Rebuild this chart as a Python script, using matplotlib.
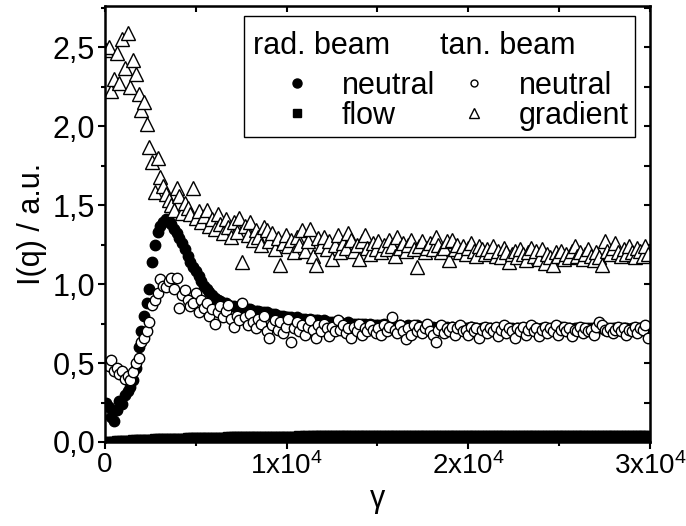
import numpy as np
import matplotlib
matplotlib.use("Agg")
import matplotlib.pyplot as plt
from matplotlib.lines import Line2D
from matplotlib.ticker import FixedLocator, FixedFormatter, MultipleLocator

plt.rcParams['font.family'] = ['Liberation Sans', 'DejaVu Sans']
plt.rcParams['mathtext.fontset'] = 'custom'
plt.rcParams['mathtext.rm'] = 'Liberation Sans'
plt.rcParams['mathtext.it'] = 'Liberation Sans:italic'

# strain values (sampling grid of the measurement)
gamma = np.arange(50, 30000, 150)

# radial beam, neutral direction (filled circles)
rad_neutral = [
    0.25, 0.22, 0.16, 0.13, 0.20, 0.26, 0.24, 0.30, 0.32, 0.35,
    0.39, 0.47, 0.60, 0.70, 0.80, 0.88, 0.97, 1.14, 1.25, 1.33,
    1.37, 1.39, 1.41, 1.40, 1.38, 1.35, 1.32, 1.29, 1.26, 1.22,
    1.18, 1.14, 1.11, 1.08, 1.05, 1.02, 0.99, 0.97, 0.95, 0.93,
    0.91, 0.90, 0.89, 0.88, 0.88, 0.87, 0.86, 0.86, 0.85, 0.85,
    0.85, 0.84, 0.84, 0.84, 0.83, 0.83, 0.83, 0.82, 0.82, 0.82,
    0.81, 0.81, 0.81, 0.80, 0.80, 0.80, 0.79, 0.79, 0.79, 0.78,
    0.79, 0.78, 0.78, 0.78, 0.77, 0.78, 0.77, 0.77, 0.77, 0.76,
    0.77, 0.76, 0.76, 0.76, 0.76, 0.75, 0.76, 0.75, 0.75, 0.76,
    0.75, 0.75, 0.75, 0.74, 0.75, 0.75, 0.74, 0.75, 0.74, 0.74,
    0.74, 0.74, 0.75, 0.74, 0.73, 0.74, 0.74, 0.73, 0.74, 0.73,
    0.73, 0.74, 0.73, 0.73, 0.74, 0.73, 0.73, 0.72, 0.73, 0.73,
    0.73, 0.72, 0.73, 0.73, 0.72, 0.73, 0.72, 0.73, 0.72, 0.72,
    0.73, 0.72, 0.72, 0.72, 0.73, 0.72, 0.72, 0.71, 0.72, 0.72,
    0.72, 0.72, 0.71, 0.72, 0.72, 0.72, 0.71, 0.72, 0.72, 0.72,
    0.71, 0.72, 0.72, 0.72, 0.72, 0.71, 0.72, 0.72, 0.72, 0.71,
    0.72, 0.72, 0.72, 0.71, 0.72, 0.72, 0.72, 0.73, 0.72, 0.72,
    0.72, 0.71, 0.72, 0.72, 0.72, 0.72, 0.71, 0.72, 0.72, 0.72,
    0.72, 0.72, 0.73, 0.72, 0.72, 0.71, 0.72, 0.72, 0.72, 0.72,
    0.72, 0.72, 0.71, 0.72, 0.72, 0.72, 0.72, 0.71, 0.72, 0.72,
]

# radial beam, flow direction (filled squares)
rad_flow = [
    0.000, 0.001, 0.002, 0.003, 0.004, 0.005, 0.006, 0.007, 0.008, 0.009,
    0.010, 0.011, 0.012, 0.012, 0.013, 0.014, 0.015, 0.015, 0.016, 0.017,
    0.017, 0.018, 0.019, 0.019, 0.020, 0.020, 0.021, 0.021, 0.022, 0.022,
    0.023, 0.023, 0.024, 0.024, 0.025, 0.025, 0.025, 0.026, 0.026, 0.027,
    0.027, 0.027, 0.028, 0.028, 0.028, 0.029, 0.029, 0.029, 0.030, 0.030,
    0.030, 0.030, 0.031, 0.031, 0.031, 0.031, 0.032, 0.032, 0.032, 0.032,
    0.033, 0.033, 0.033, 0.033, 0.033, 0.034, 0.034, 0.034, 0.034, 0.034,
    0.034, 0.035, 0.034, 0.035, 0.035, 0.034, 0.035, 0.035, 0.035, 0.035,
    0.035, 0.035, 0.036, 0.035, 0.035, 0.036, 0.035, 0.036, 0.036, 0.035,
    0.036, 0.036, 0.035, 0.036, 0.036, 0.036, 0.035, 0.036, 0.036, 0.036,
    0.036, 0.036, 0.037, 0.036, 0.036, 0.036, 0.037, 0.036, 0.036, 0.037,
    0.036, 0.037, 0.036, 0.036, 0.037, 0.036, 0.037, 0.036, 0.037, 0.036,
    0.037, 0.036, 0.037, 0.037, 0.036, 0.037, 0.036, 0.037, 0.037, 0.036,
    0.037, 0.037, 0.036, 0.037, 0.037, 0.036, 0.037, 0.037, 0.037, 0.036,
    0.037, 0.037, 0.037, 0.036, 0.037, 0.037, 0.037, 0.036, 0.037, 0.037,
    0.037, 0.036, 0.037, 0.037, 0.037, 0.037, 0.036, 0.037, 0.037, 0.037,
    0.037, 0.037, 0.036, 0.037, 0.037, 0.037, 0.037, 0.036, 0.037, 0.037,
    0.037, 0.037, 0.037, 0.036, 0.037, 0.037, 0.037, 0.037, 0.037, 0.036,
    0.037, 0.037, 0.037, 0.037, 0.036, 0.037, 0.037, 0.037, 0.037, 0.037,
    0.036, 0.037, 0.037, 0.037, 0.037, 0.037, 0.036, 0.037, 0.037, 0.037,
]

# tangential beam, neutral direction (open circles)
tan_neutral = [
    0.50, 0.48, 0.52, 0.45, 0.47, 0.43, 0.45, 0.40, 0.42, 0.39,
    0.44, 0.50, 0.53, 0.63, 0.66, 0.70, 0.76, 0.87, 0.90, 0.94,
    1.03, 0.99, 0.98, 1.02, 1.04, 0.97, 1.04, 0.85, 0.93, 0.96,
    0.90, 0.86, 0.88, 0.94, 0.82, 0.90, 0.85, 0.88, 0.80, 0.84,
    0.75, 0.82, 0.86, 0.79, 0.83, 0.87, 0.78, 0.73, 0.80, 0.77,
    0.88, 0.79, 0.74, 0.81, 0.76, 0.72, 0.78, 0.75, 0.80, 0.70,
    0.66, 0.74, 0.77, 0.71, 0.76, 0.69, 0.73, 0.78, 0.63, 0.72,
    0.76, 0.70, 0.74, 0.68, 0.73, 0.77, 0.71, 0.66, 0.74, 0.70,
    0.75, 0.72, 0.67, 0.73, 0.70, 0.77, 0.71, 0.74, 0.69, 0.72,
    0.66, 0.73, 0.70, 0.75, 0.68, 0.72, 0.70, 0.74, 0.71, 0.69,
    0.72, 0.68, 0.74, 0.70, 0.73, 0.79, 0.71, 0.69, 0.74, 0.70,
    0.65, 0.72, 0.68, 0.74, 0.70, 0.73, 0.69, 0.72, 0.75, 0.70,
    0.68, 0.63, 0.71, 0.74, 0.69, 0.72, 0.70, 0.73, 0.68, 0.72,
    0.74, 0.70, 0.71, 0.68, 0.73, 0.70, 0.72, 0.66, 0.71, 0.73,
    0.69, 0.72, 0.70, 0.73, 0.67, 0.71, 0.74, 0.69, 0.72, 0.70,
    0.66, 0.72, 0.70, 0.73, 0.68, 0.71, 0.74, 0.70, 0.72, 0.67,
    0.71, 0.73, 0.69, 0.72, 0.70, 0.74, 0.68, 0.71, 0.73, 0.70,
    0.72, 0.67, 0.71, 0.70, 0.73, 0.69, 0.72, 0.70, 0.71, 0.68,
    0.73, 0.76, 0.74, 0.71, 0.70, 0.72, 0.69, 0.71, 0.73, 0.70,
    0.72, 0.68, 0.71, 0.70, 0.73, 0.69, 0.72, 0.71, 0.74, 0.66,
]

# tangential beam, gradient direction (open triangles)
tan_gradient = [
    2.48, 2.50, 2.22, 2.30, 2.46, 2.27, 2.55, 2.37, 2.59, 2.25,
    2.42, 2.33, 2.20, 2.10, 2.15, 2.01, 1.87, 1.77, 1.58, 1.80,
    1.68, 1.62, 1.57, 1.53, 1.50, 1.47, 1.61, 1.56, 1.45, 1.51,
    1.48, 1.44, 1.61, 1.42, 1.46, 1.39, 1.43, 1.47, 1.37, 1.41,
    1.35, 1.44, 1.38, 1.32, 1.41, 1.36, 1.30, 1.39, 1.33, 1.42,
    1.14, 1.37, 1.31, 1.39, 1.28, 1.34, 1.30, 1.25, 1.36, 1.34,
    1.27, 1.32, 1.22, 1.29, 1.12, 1.26, 1.31, 1.24, 1.28, 1.20,
    1.30, 1.25, 1.34, 1.21, 1.27, 1.35, 1.18, 1.12, 1.29, 1.24,
    1.30, 1.22, 1.27, 1.16, 1.25, 1.31, 1.20, 1.26, 1.23, 1.32,
    1.28, 1.21, 1.25, 1.16, 1.27, 1.31, 1.23, 1.19, 1.26, 1.22,
    1.27, 1.20, 1.25, 1.22, 1.28, 1.24, 1.18, 1.30, 1.23, 1.26,
    1.21, 1.25, 1.28, 1.22, 1.11, 1.24, 1.27, 1.20, 1.23, 1.26,
    1.22, 1.30, 1.25, 1.20, 1.23, 1.27, 1.15, 1.28, 1.22, 1.25,
    1.20, 1.24, 1.19, 1.23, 1.26, 1.21, 1.18, 1.24, 1.22, 1.19,
    1.22, 1.20, 1.24, 1.18, 1.21, 1.17, 1.23, 1.20, 1.14, 1.19,
    1.21, 1.17, 1.22, 1.19, 1.15, 1.20, 1.23, 1.18, 1.21, 1.16,
    1.22, 1.13, 1.19, 1.17, 1.12, 1.20, 1.18, 1.21, 1.16, 1.19,
    1.17, 1.21, 1.24, 1.18, 1.20, 1.16, 1.19, 1.22, 1.18, 1.15,
    1.20, 1.17, 1.12, 1.27, 1.21, 1.19, 1.23, 1.26, 1.20, 1.18,
    1.22, 1.19, 1.24, 1.20, 1.17, 1.23, 1.21, 1.18, 1.24, 1.19,
]

x_ticks = [0, 10000, 20000, 30000]
x_tick_labels = ['0', '1x10$^4$', '2x10$^4$', '3x10$^4$']
y_ticks = [0.0, 0.5, 1.0, 1.5, 2.0, 2.5]
y_tick_labels = ['0,0', '0,5', '1,0', '1,5', '2,0', '2,5']

FS = 22

fig = plt.figure(figsize=(6.86, 5.26), dpi=100)
ax = fig.add_axes([0.153, 0.1597, 0.7945, 0.829])

ax.plot(gamma, rad_flow, ls='none', marker='s', ms=7.5, color='black', mec='black')
ax.plot(gamma, rad_neutral, ls='none', marker='o', ms=7.5, color='black', mec='black')
ax.plot(gamma, tan_neutral, ls='none', marker='o', ms=7.5, mfc='white', mec='black', mew=1.0)
ax.plot(gamma, tan_gradient, ls='none', marker='^', ms=9.5, mfc='white', mec='black', mew=1.0)

ax.set_xlim(0, 30000)
ax.set_ylim(0, 2.76)

ax.xaxis.set_major_locator(FixedLocator(x_ticks))
ax.xaxis.set_major_formatter(FixedFormatter(x_tick_labels))
ax.xaxis.set_minor_locator(MultipleLocator(5000))
ax.yaxis.set_major_locator(FixedLocator(y_ticks))
ax.yaxis.set_major_formatter(FixedFormatter(y_tick_labels))
ax.yaxis.set_minor_locator(MultipleLocator(0.25))

ax.tick_params(which='both', direction='out', labelsize=FS, width=1.5, pad=2)
ax.tick_params(axis='x', labelsize=20)
ax.tick_params(which='major', length=5)
ax.tick_params(which='minor', length=3)
for s in ax.spines.values():
    s.set_linewidth(1.8)

top = ax.secondary_xaxis('top')
top.xaxis.set_major_locator(MultipleLocator(5000))
top.tick_params(direction='in', length=4, width=1.5, labeltop=False)
right = ax.secondary_yaxis('right')
right.yaxis.set_major_locator(MultipleLocator(0.25))
right.tick_params(direction='in', length=4, width=1.5, labelright=False)

ax.set_xlabel('γ', fontsize=FS, labelpad=3)
ax.set_ylabel('I(q) / a.u.', fontsize=FS, labelpad=4)

blank = Line2D([], [], ls='none', marker='none')
handles = [
    blank,
    Line2D([], [], ls='none', marker='o', ms=6.5, color='black'),
    Line2D([], [], ls='none', marker='s', ms=6, color='black'),
    blank,
    Line2D([], [], ls='none', marker='o', ms=5, mfc='white', mec='black', mew=1.0),
    Line2D([], [], ls='none', marker='^', ms=6.5, mfc='white', mec='black', mew=1.0),
]
labels = [' ', 'neutral', 'flow', ' ', 'neutral', 'gradient']
leg = ax.legend(handles, labels, ncol=2, loc='upper right',
                bbox_to_anchor=(0.972, 0.977), borderaxespad=0,
                fontsize=FS, frameon=True, fancybox=False, edgecolor='black',
                framealpha=1, borderpad=0.2, labelspacing=0.0,
                handlelength=3.1, handletextpad=-0.1, columnspacing=-0.26)
leg.get_frame().set_linewidth(1.0)
# taller first row leaves room for the column headers
leg.get_texts()[0].set_fontsize(37)
leg.get_texts()[3].set_fontsize(37)

ax.text(0.2716, 0.8899, 'rad. beam', transform=ax.transAxes, va='baseline', ha='left',
        fontsize=FS, zorder=10)
ax.text(0.6147, 0.8899, 'tan. beam', transform=ax.transAxes, va='baseline', ha='left',
        fontsize=FS, zorder=10)

fig.savefig('out.png', dpi=100)
